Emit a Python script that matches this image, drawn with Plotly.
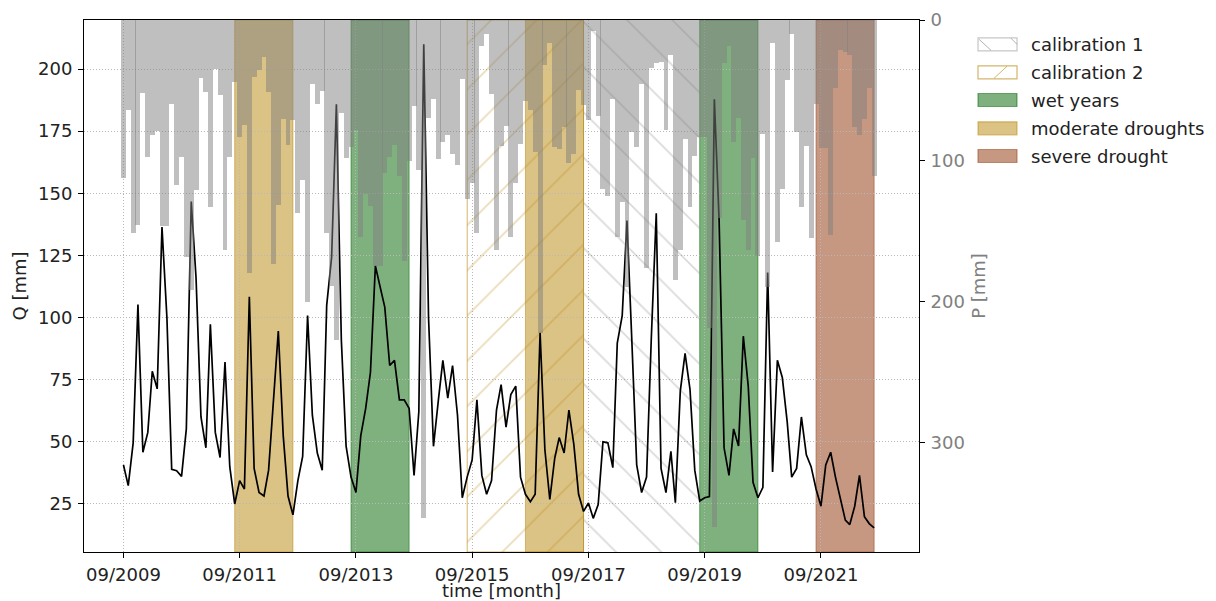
import pandas as pd
import plotly.graph_objects as go

# ---------------- data ----------------
dates = pd.date_range("2009-09-01", periods=156, freq="MS")

q_mm = [40.7, 32.4, 49.6, 105.2, 45.8, 53.8, 78.4, 71.3, 136.4, 100.0, 38.9, 38.4,
        36.1, 55.2, 146.7, 116.0, 60.0, 47.6, 97.3, 53.8, 43.7, 82.1, 40.0, 25.0,
        34.4, 31.0, 108.4, 39.3, 29.6, 28.2, 38.6, 66.9, 94.6, 52.4, 28.2, 20.6,
        34.4, 44.1, 100.8, 60.7, 45.5, 38.6, 104.9, 124.3, 185.8, 91.1, 48.3, 35.8,
        29.6, 52.4, 63.5, 78.0, 120.8, 112.0, 104.2, 80.7, 82.8, 66.9, 66.9, 63.5,
        36.5, 62.1, 210.0, 100.0, 48.2, 66.9, 82.8, 67.6, 80.7, 60.7, 27.5, 35.9,
        42.7, 66.9, 36.5, 28.9, 34.4, 62.8, 73.0, 55.9, 69.0, 72.4, 35.8, 28.9,
        25.9, 28.9, 93.9, 46.9, 26.8, 43.4, 51.7, 45.5, 62.8, 49.0, 28.9, 22.0,
        25.4, 19.2, 24.8, 50.0, 49.6, 39.6, 89.7, 100.8, 139.0, 90.0, 40.7, 29.6,
        35.8, 92.0, 142.0, 39.3, 29.6, 46.2, 25.5, 70.4, 85.6, 71.1, 38.6, 26.2,
        27.5, 28.0, 187.8, 139.0, 47.6, 36.5, 55.2, 48.3, 92.5, 72.4, 33.7, 27.5,
        31.7, 118.1, 37.9, 82.8, 75.9, 57.9, 35.8, 39.3, 60.0, 44.8, 40.0, 31.0,
        24.1, 40.7, 45.8, 35.8, 27.5, 18.5, 16.7, 24.1, 36.5, 19.9, 17.1, 15.4]

p_mm = [112.5, 63.6, 151.0, 145.4, 51.9, 97.3, 82.0, 78.8, 146.6, 146.6, 59.5, 116.9,
        97.3, 168.6, 191.8, 121.0, 41.0, 51.4, 132.7, 34.9, 53.4, 163.7, 97.3, 44.1,
        83.2, 74.6, 179.6, 40.5, 35.6, 26.6, 51.4, 173.5, 131.5, 70.5, 88.5, 71.0,
        136.9, 113.7, 200.3, 45.3, 60.0, 50.2, 151.5, 189.3, 227.2, 66.1, 97.8, 90.5,
        78.3, 154.0, 123.4, 132.0, 174.7, 174.7, 109.0, 97.0, 89.0, 111.0, 171.0, 100.0,
        61.2, 106.4, 354.1, 69.8, 56.3, 99.0, 86.8, 82.0, 95.4, 102.7, 41.7, 127.1,
        116.1, 151.5, 18.5, 10.0, 52.7, 163.7, 89.3, 75.4, 154.0, 116.1, 88.1, 57.5,
        63.6, 94.1, 222.3, 31.9, 16.1, 90.5, 91.7, 75.9, 101.5, 95.4, 49.5, 60.7,
        71.0, 7.5, 68.5, 119.8, 124.7, 56.3, 154.0, 129.5, 190.0, 79.5, 90.0, 45.3,
        176.0, 34.4, 30.7, 29.5, 78.3, 24.6, 184.5, 163.7, 84.4, 133.2, 96.6, 83.2,
        83.2, 218.6, 360.2, 140.5, 30.7, 18.5, 86.8, 69.8, 141.8, 163.7, 97.8, 167.4,
        80.7, 190.0, 16.1, 157.6, 119.8, 42.9, 10.0, 79.5, 133.2, 89.3, 155.2, 60.0,
        91.0, 91.0, 153.0, 48.0, 21.0, 23.0, 25.0, 76.0, 82.0, 70.0, 48.0, 111.0]

cal1_period = ("2017-08-01", "2019-08-01")
cal2_period = ("2015-08-01", "2017-08-01")
wet_periods = [("2013-08-01", "2014-08-01"), ("2019-08-01", "2020-08-01")]
moderate_periods = [("2011-08-01", "2012-08-01"), ("2016-08-01", "2017-08-01")]
severe_periods = [("2021-08-01", "2022-08-01")]

tick_dates = ["2009-09-01", "2011-09-01", "2013-09-01", "2015-09-01",
              "2017-09-01", "2019-09-01", "2021-09-01"]
tick_text = ["09/2009", "09/2011", "09/2013", "09/2015", "09/2017", "09/2019", "09/2021"]

legend_labels = ["calibration 1", "calibration 2", "wet years",
                 "moderate droughts", "severe drought"]

# ---------------- style ----------------
FONT = "DejaVu Sans"
FS = 18
Q_RANGE = [5.67, 219.73]
P_RANGE = [378, 0]
X_RANGE = ["2008-12-27", "2023-05-10"]

WET = "rgba(0,100,0,0.5)"
MOD = "rgba(184,134,11,0.5)"
SEV = "rgba(160,82,45,0.6)"
CAL1 = "rgba(128,128,128,0.6)"
CAL2 = "rgba(184,134,11,0.6)"

# the page body adds an 8 px offset; figure is sized so that plot lands as in reference
OFF = 8
FIG_W, FIG_H = 1216 - OFF, 601 - OFF
L, T = 84 - OFF, 20 - OFF
W, H = 835, 532

fig = go.Figure()

shapes = []
for periods, col in [(wet_periods, WET), (moderate_periods, MOD), (severe_periods, SEV)]:
    for a, b in periods:
        shapes.append(dict(type="rect", xref="x", yref="y domain", x0=a, x1=b, y0=0, y1=1,
                           fillcolor=col, line=dict(color=col, width=1), layer="below"))

# hatched calibration periods
for (a, b), shape_, col, edge in [(cal1_period, "\\", CAL1, "rgba(0,0,0,0)"),
                                  (cal2_period, "/", CAL2, CAL2)]:
    fig.add_trace(go.Scatter(
        x=[a, a, b, b, a], y=[Q_RANGE[0], Q_RANGE[1], Q_RANGE[1], Q_RANGE[0], Q_RANGE[0]],
        mode="lines", fill="toself", line=dict(color=edge, width=1),
        fillcolor="rgba(0,0,0,0)",
        fillpattern=dict(shape=shape_, fgcolor=col, bgcolor="rgba(0,0,0,0)",
                         size=32, solidity=0.05),
        showlegend=False, hoverinfo="skip", yaxis="y"))

fig.add_trace(go.Scatter(x=dates, y=q_mm, mode="lines",
                         line=dict(color="black", width=1.7), showlegend=False, yaxis="y"))

fig.add_trace(go.Bar(x=dates, y=p_mm, base=0, width=31 * 86400000,
                     marker=dict(color="rgba(128,128,128,0.5)", line=dict(width=0)),
                     showlegend=False, yaxis="y2"))


def px(xp):
    return (xp - OFF - L) / W


def py(yp):
    return (T + H - (yp - OFF)) / H


row_y = [44.3, 72.3, 100.0, 128.3, 156.0]
leg_fill = ["white", "white", WET, MOD, SEV]
leg_edge = ["rgba(128,128,128,0.45)", CAL2, WET, MOD, SEV]
annotations = []
for yc, lab, fc, ec in zip(row_y, legend_labels, leg_fill, leg_edge):
    shapes.append(dict(type="rect", xref="paper", yref="paper",
                       x0=px(978), x1=px(1017), y0=py(yc - 6.5), y1=py(yc + 6.5),
                       fillcolor=fc, line=dict(color=ec, width=1.2)))
    annotations.append(dict(xref="paper", yref="paper", x=px(1029), y=py(yc),
                            text=lab, showarrow=False, xanchor="left", yanchor="middle",
                            font=dict(family=FONT, size=FS, color="#222")))
shapes.append(dict(type="line", xref="paper", yref="paper", x0=px(979), y0=py(row_y[0] - 5),
                   x1=px(991), y1=py(row_y[0] + 6), line=dict(color=CAL1, width=1)))
shapes.append(dict(type="line", xref="paper", yref="paper", x0=px(1011), y0=py(row_y[0] - 6),
                   x1=px(1017), y1=py(row_y[0]), line=dict(color=CAL1, width=1)))
shapes.append(dict(type="line", xref="paper", yref="paper", x0=px(994), y0=py(row_y[1] + 6),
                   x1=px(1007), y1=py(row_y[1] - 6), line=dict(color=CAL2, width=1)))

GRID = dict(showgrid=True, gridcolor="#b8b8b8", griddash="1px,2px", gridwidth=1)
axis_common = dict(showline=True, linecolor="black", linewidth=1, ticks="outside",
                   ticklen=5, tickcolor="black", tickwidth=1, automargin=False,
                   tickfont=dict(family=FONT, size=FS, color="#222"))

fig.update_layout(
    width=FIG_W, height=FIG_H,
    margin=dict(l=L, r=FIG_W - L - W, t=T, b=FIG_H - T - H),
    paper_bgcolor="white", plot_bgcolor="white",
    font=dict(family=FONT, size=FS, color="#222"),
    showlegend=False, bargap=0,
    shapes=shapes, annotations=annotations,
    xaxis=dict(type="date", range=X_RANGE, tickvals=tick_dates, ticktext=tick_text,
               mirror=True, ticklabelstandoff=1,
               title=dict(text="time [month]", standoff=5,
                          font=dict(family=FONT, size=FS, color="#222")),
               **GRID, **axis_common),
    yaxis=dict(range=Q_RANGE, tickvals=[25, 50, 75, 100, 125, 150, 175, 200],
               mirror=True, zeroline=False, ticklabelstandoff=2,
               title=dict(text="Q [mm]", standoff=6,
                          font=dict(family=FONT, size=FS, color="#222")),
               **GRID, **axis_common),
    yaxis2=dict(overlaying="y", side="right", range=P_RANGE, autorange=False,
                tickvals=[0, 100, 200, 300], showgrid=False, zeroline=False,
                showline=True, linecolor="black", linewidth=1, ticks="outside",
                ticklen=5, tickcolor="black", ticklabelstandoff=2, automargin=False,
                tickfont=dict(family=FONT, size=FS, color="gray"),
                title=dict(text="P [mm]", standoff=8,
                           font=dict(family=FONT, size=FS, color="gray"))),
)

fig.write_html("out.html")
